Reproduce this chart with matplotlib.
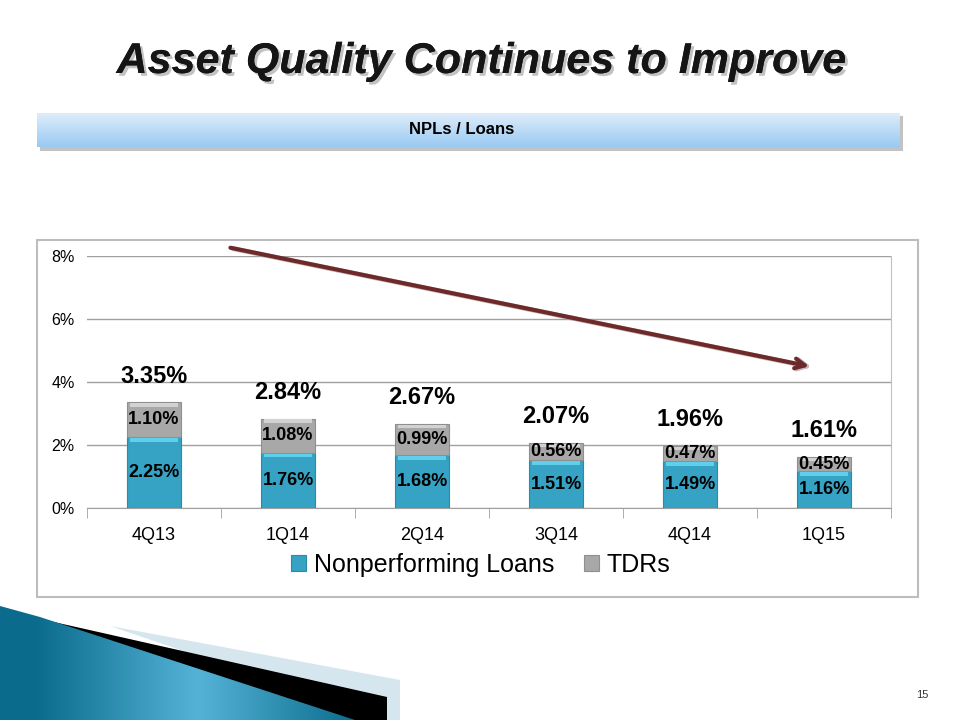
import numpy as np
import matplotlib.pyplot as plt
import matplotlib.patheffects as pe
from matplotlib.patches import Rectangle, Polygon

quarters = ['4Q13', '1Q14', '2Q14', '3Q14', '4Q14', '1Q15']
npl = [2.25, 1.76, 1.68, 1.51, 1.49, 1.16]
tdr = [1.10, 1.08, 0.99, 0.56, 0.47, 0.45]
total = [3.35, 2.84, 2.67, 2.07, 1.96, 1.61]
yticks = [0, 2, 4, 6, 8]

narrow = ['Liberation Sans Narrow', 'Liberation Sans', 'DejaVu Sans']
plt.rcParams['font.family'] = ['Liberation Sans', 'DejaVu Sans']

fig = plt.figure(figsize=(9.6, 7.2), dpi=100)

# background layer in pixel coords for slide decoration
bg = fig.add_axes([0, 0, 1, 1])
bg.set_xlim(0, 960)
bg.set_ylim(720, 0)
bg.axis('off')

# title with soft shadow
bg.text(481, 62, 'Asset Quality Continues to Improve', fontsize=31, fontweight='bold',
        fontstyle='italic', ha='center', va='center', color='#151515',
        path_effects=[pe.withSimplePatchShadow(offset=(2, -2), shadow_rgbFace='#9a9a9a',
                                               alpha=0.6), pe.Normal()])

# header bar with gradient
bg.add_patch(Rectangle((40, 116), 863, 35, color='#9a9a9a', alpha=0.6, lw=0))
grad = np.linspace(0, 1, 64).reshape(-1, 1)
top_c = np.array([0.87, 0.93, 0.98])
bot_c = np.array([0.60, 0.79, 0.95])
img = top_c + (bot_c - top_c) * grad[..., None]
bg.imshow(img, extent=(37, 900, 147, 113), aspect='auto', zorder=2)
bg.text(462, 130, 'NPLs / Loans', fontsize=12, fontweight='bold', ha='center',
        va='center', family=narrow, zorder=3)

# chart frame
bg.add_patch(Rectangle((37, 240), 881, 357, fill=False, ec='#bdbdbd', lw=1.5))

# bottom-left wedge decoration
bg.add_patch(Polygon([(110, 626), (400, 680), (400, 720), (385, 720)],
                     closed=True, color='#d6e6ee', lw=0))
bg.add_patch(Polygon([(45, 620), (387, 697), (387, 720), (352, 720)],
                     closed=True, color='#000000', lw=0))
wedge = Polygon([(0, 606), (40, 617), (355, 720), (0, 720)], closed=True,
                color='none', lw=0)
bg.add_patch(wedge)
xx = np.linspace(0, 1, 128)
w_img = np.zeros((8, 128, 3))
c1 = np.array([0.04, 0.42, 0.55])
c2 = np.array([0.33, 0.70, 0.84])
mix = np.clip(1 - np.abs(xx - 0.55) * 2.2, 0, 1)
w_img[:] = c1 + (c2 - c1) * mix[None, :, None]
wi = bg.imshow(w_img, extent=(0, 360, 720, 600), aspect='auto', zorder=1)
wi.set_clip_path(wedge)

bg.text(922, 695, '15', fontsize=8, ha='center', va='center', color='#333333')

# main chart
ax = fig.add_axes([87 / 960, 1 - 508 / 720, 804 / 960, 252 / 720])
x = np.arange(len(quarters))
w = 0.4
ax.bar(x, npl, w, color='#36a3c4', edgecolor='#2b8aa8', lw=0.8, zorder=3,
       label='Nonperforming Loans')
ax.bar(x, tdr, w, bottom=npl, color='#a8a8a8', edgecolor='#8f8f8f', lw=0.8,
       zorder=3, label='TDRs')
# top highlights to hint at the bevel
ax.bar(x, [0.12] * len(x), w * 0.9, bottom=np.array(npl) - 0.15, color='#5fd0ec',
       lw=0, zorder=4)
ax.bar(x, [0.1] * len(x), w * 0.9, bottom=np.array(total) - 0.13, color='#d2d2d2',
       lw=0, zorder=4)

for i in range(len(x)):
    ax.text(x[i], npl[i] / 2, f'{npl[i]:.2f}%', ha='center', va='center',
            fontsize=13, fontweight='bold', family=narrow, zorder=5)
    ax.text(x[i], npl[i] + tdr[i] / 2, f'{tdr[i]:.2f}%', ha='center', va='center',
            fontsize=13, fontweight='bold', family=narrow, zorder=5)
    ax.annotate(f'{total[i]:.2f}%', (x[i], total[i]), xytext=(0, 19),
                textcoords='offset points', ha='center', va='center',
                fontsize=17, fontweight='bold', family=narrow)

ax.set_xlim(-0.5, len(x) - 0.5)
ax.set_ylim(0, 8)
ax.set_yticks(yticks)
ax.set_yticklabels([f'{t}%' for t in yticks], family=narrow, fontsize=11.5)
ax.yaxis.grid(True, color='#a0a0a0', lw=1, zorder=0)
ax.tick_params(axis='y', length=0, pad=9)
ax.set_xticks(x)
ax.set_xticklabels(quarters, family=narrow, fontsize=13)
ax.set_xticks(np.arange(-0.5, len(x)), minor=True)
ax.tick_params(axis='x', which='major', length=0, pad=14)
ax.tick_params(axis='x', which='minor', length=7, color='#a0a0a0', direction='out')
for s in ['left', 'top']:
    ax.spines[s].set_visible(False)
ax.spines['bottom'].set_color('#a0a0a0')
ax.spines['right'].set_color('#c0c0c0')
ax.patch.set_alpha(0)

# trend arrow with shadow
ax.annotate('', xy=(4.93, 4.45), xytext=(0.57, 8.25),
            arrowprops=dict(arrowstyle='->,head_length=0.7,head_width=0.35',
                            color='#c9b9b9', lw=3.5), annotation_clip=False,
            zorder=1)
ax.annotate('', xy=(4.91, 4.48), xytext=(0.55, 8.28),
            arrowprops=dict(arrowstyle='->,head_length=0.7,head_width=0.35',
                            color='#6e2a2a', lw=3), annotation_clip=False,
            zorder=2)

leg = ax.legend(loc='upper center', bbox_to_anchor=(0.49, -0.09), ncol=2,
                frameon=False, prop={'family': narrow, 'size': 18},
                handlelength=0.6, handleheight=0.6, handletextpad=0.3,
                columnspacing=1.2)

fig.savefig('out.png', dpi=100)
